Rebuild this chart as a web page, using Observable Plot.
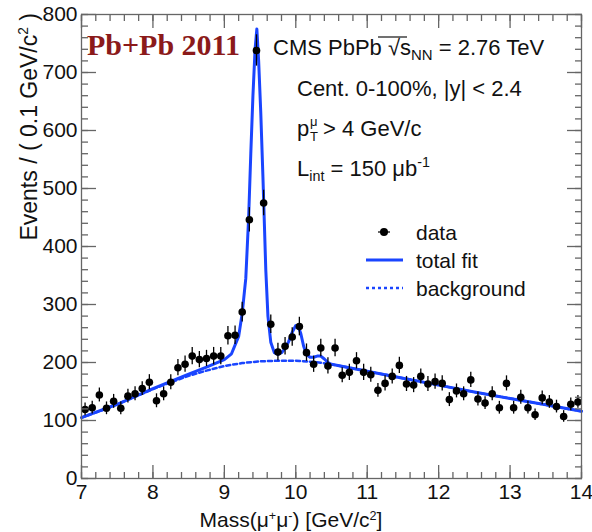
<!DOCTYPE html>
<html><head><meta charset="utf-8">
<script src="https://cdn.jsdelivr.net/npm/d3@7"></script>
<script src="https://cdn.jsdelivr.net/npm/@observablehq/plot@0.6"></script>
<style>body{margin:0;background:#fff;} #chart svg{display:block;}</style>
</head><body><div id="chart"></div>
<script>
// ---- data ----
const massBins = [7.05,7.15,7.25,7.35,7.45,7.55,7.65,7.75,7.85,7.95,
  8.05,8.15,8.25,8.35,8.45,8.55,8.65,8.75,8.85,8.95,
  9.05,9.15,9.25,9.35,9.45,9.55,9.65,9.75,9.85,9.95,
  10.05,10.15,10.25,10.35,10.45,10.55,10.65,10.75,10.85,10.95,
  11.05,11.15,11.25,11.35,11.45,11.55,11.65,11.75,11.85,11.95,
  12.05,12.15,12.25,12.35,12.45,12.55,12.65,12.75,12.85,12.95,
  13.05,13.15,13.25,13.35,13.45,13.55,13.65,13.75,13.85,13.95];
const events = [119,122,144,121,133,121,142,146,155,166,
  134,146,166,191,197,211,205,207,211,211,
  246,247,287,446,738,475,266,218,228,244,
  262,217,197,225,194,225,178,183,203,183,
  179,152,164,176,195,163,161,176,163,167,
  164,136,151,146,170,137,130,146,122,164,
  122,140,122,110,139,132,124,107,128,132];
const eventErrors = [11,11,12,11,12,11,12,12,12,13,
  12,12,13,14,14,15,14,14,15,15,
  16,16,17,21,27,22,16,15,15,16,
  16,15,14,15,14,15,13,14,14,14,
  13,12,13,13,14,13,13,13,13,13,
  13,12,12,12,13,12,11,12,11,13,
  11,12,11,10,12,11,11,10,11,11];
const fitMass = [7.0,7.5,8.0,8.5,8.75,9.0,9.1,9.2,9.25,9.3,9.34,9.37,9.4,9.43,9.455,9.48,9.51,9.54,9.56,9.58,9.61,9.65,9.7,9.75,9.8,9.85,9.9,9.95,10.0,10.03,10.07,10.11,10.15,10.2,10.25,10.3,10.35,10.4,10.45,10.5,10.75,11.0,11.25,11.5,11.75,12.0,12.5,13.0,13.5,14.0];
const fitTotal = [105,128,155,180,192,205,215,245,285,345,450,560,660,740,775,720,630,520,440,360,280,235,217,214,217,224,236,252,264,264,250,228,214,209,209,211,211,206,200,197,191,185,179,173,167,161,149,138,127,116];
const bgMass = [7.0,7.25,7.5,7.75,8.0,8.25,8.5,8.75,9.0,9.25,9.5,9.75,10.0,10.25,10.5,10.75,11.0,11.25,11.5,11.75,12.0,12.5,13.0,13.5,14.0];
const bgValues = [105,116,128,141,154,166,177,186,194,199,202,203,203,201,197,191,185,179,173,167,161,149,138,127,116];
const xTickValues = [7,8,9,10,11,12,13,14];
const yTickValues = [0,100,200,300,400,500,600,700,800];

// ---- build tables ----
const points = massBins.map((m, i) => ({m, v: events[i], e: eventErrors[i]}));
const fit = fitMass.map((m, i) => ({m, v: fitTotal[i]}));
const bg = bgMass.map((m, i) => ({m, v: bgValues[i]}));
const xMinor = d3.range(35, 71).map(d => d / 5);
const yMinor = d3.range(0, 41).map(d => d * 20);

const blue = "#1a45ff";
const axisColor = "#666";
const sans = "'Liberation Sans', Arial, Helvetica, sans-serif";

const tickOpts = (size) => ({tickSize: size, fill: "none", label: null, stroke: axisColor, strokeWidth: 1.3});

const chart = Plot.plot({
  width: 592, height: 532,
  marginLeft: 81, marginRight: 11, marginTop: 14, marginBottom: 54,
  style: {fontFamily: sans, fontSize: "21px", color: "#111", background: "#fff", overflow: "visible"},
  x: {domain: [7, 14], axis: null},
  y: {domain: [0, 800], axis: null},
  marks: [
    Plot.line(bg, {x: "m", y: "v", stroke: blue, strokeWidth: 2.5, strokeDasharray: "4,3"}),
    Plot.line(fit, {x: "m", y: "v", stroke: blue, strokeWidth: 3}),
    Plot.ruleX(points, {x: "m", y1: d => d.v - d.e, y2: d => d.v + d.e, stroke: "#000", strokeWidth: 1.3}),
    Plot.dot(points, {x: "m", y: "v", r: 3.8, fill: "#000"}),
    Plot.frame({stroke: axisColor, strokeWidth: 1.3}),
    Plot.axisX(xTickValues, {anchor: "bottom", ...tickOpts(-13)}),
    Plot.axisX(xMinor, {anchor: "bottom", ...tickOpts(-6)}),
    Plot.axisX(xTickValues, {anchor: "top", ...tickOpts(-13)}),
    Plot.axisX(xMinor, {anchor: "top", ...tickOpts(-6)}),
    Plot.axisY(yTickValues, {anchor: "left", ...tickOpts(-15)}),
    Plot.axisY(yMinor, {anchor: "left", ...tickOpts(-7)}),
    Plot.axisY(yTickValues, {anchor: "right", ...tickOpts(-15)}),
    Plot.axisY(yMinor, {anchor: "right", ...tickOpts(-7)}),
    Plot.axisX(xTickValues, {anchor: "bottom", tickSize: 0, tickPadding: 6, label: null, fontSize: 21, fill: "#111"}),
    Plot.axisY(yTickValues, {anchor: "left", tickSize: 0, tickPadding: 4, label: null, fontSize: 21, fill: "#111"})
  ]
});
document.getElementById("chart").appendChild(chart);

// ---- annotations (real SVG text with sub/superscripts) ----
const svg = d3.select(chart);
function rich(x, y, segs, {size = 22, anchor = "start", family = sans, fill = "#111", weight = "normal", transform = null} = {}) {
  const t = svg.append("text")
    .attr("x", x).attr("y", y)
    .attr("font-family", family).attr("font-size", size)
    .attr("font-weight", weight).attr("fill", fill)
    .attr("text-anchor", anchor);
  if (transform) t.attr("transform", transform);
  let prev = 0;
  for (const [txt, shift = 0, scale = 1] of segs) {
    t.append("tspan").attr("dy", shift - prev).attr("font-size", size * scale).text(txt);
    prev = shift;
  }
  return t;
}

rich(87, 55, [["Pb+Pb 2011"]], {size: 30, family: "'Liberation Serif', 'Times New Roman', serif", weight: "bold", fill: "#8b1a1a"});
rich(273, 55, [["CMS PbPb √"], ["s"], ["NN", 5, 0.68], [" = 2.76 TeV", 0]]);
svg.append("line").attr("x1", 378).attr("x2", 407).attr("y1", 37).attr("y2", 37).attr("stroke", "#111").attr("stroke-width", 1.2);
rich(297, 96, [["Cent. 0-100%, |y| < 2.4"]]);
rich(297, 136, [["p"]]);
rich(310, 126, [["μ"]], {size: 13});
rich(310, 141, [["T"]], {size: 13});
rich(323, 136, [["> 4 GeV/c"]]);
rich(297, 176, [["L"], ["int", 5, 0.65], [" = 150 μb", 0], ["-1", -9, 0.65]]);

// legend
svg.append("circle").attr("cx", 384).attr("cy", 232).attr("r", 4).attr("fill", "#000");
svg.append("line").attr("x1", 378).attr("x2", 390).attr("y1", 232).attr("y2", 232).attr("stroke", "#000").attr("stroke-width", 1.2);
rich(416, 240, [["data"]], {size: 21});
svg.append("line").attr("x1", 366).attr("x2", 403).attr("y1", 260).attr("y2", 260).attr("stroke", blue).attr("stroke-width", 3);
rich(416, 268, [["total fit"]], {size: 21});
svg.append("line").attr("x1", 366).attr("x2", 403).attr("y1", 288).attr("y2", 288).attr("stroke", blue).attr("stroke-width", 2.5).attr("stroke-dasharray", "3,3");
rich(416, 296, [["background"]], {size: 21});

// axis titles
rich(291, 527, [["Mass(μ"], ["+", -7, 0.6], ["μ", 0], ["-", -7, 0.6], [") [GeV/c", 0], ["2", -7, 0.6], ["]", 0]], {anchor: "middle", size: 21});
rich(0, 0, [["Events / ( 0.1 GeV/c"], ["2", -9, 0.6], [" )", 0]], {anchor: "end", size: 23, transform: "translate(37,13) rotate(-90)"});
</script>
</body></html>
